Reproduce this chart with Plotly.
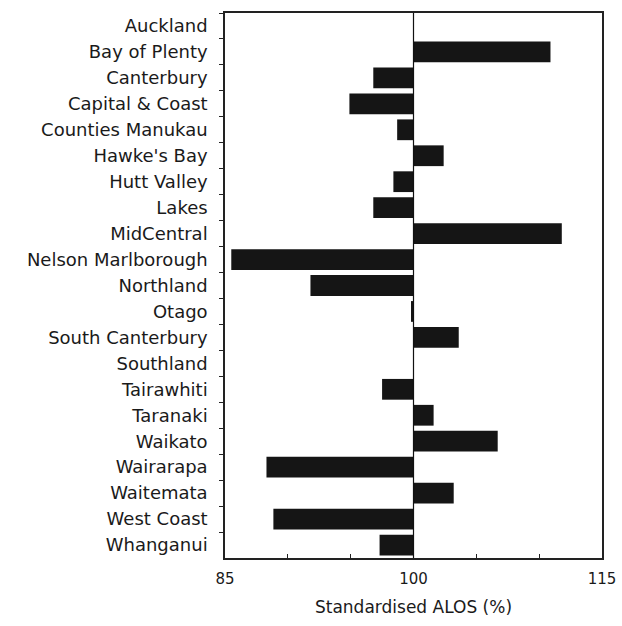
import plotly.graph_objects as go

regions = ["Auckland", "Bay of Plenty", "Canterbury", "Capital & Coast", "Counties Manukau",
           "Hawke's Bay", "Hutt Valley", "Lakes", "MidCentral", "Nelson Marlborough",
           "Northland", "Otago", "South Canterbury", "Southland", "Tairawhiti",
           "Taranaki", "Waikato", "Wairarapa", "Waitemata", "West Coast", "Whanganui"]
alos = [100.0, 110.9, 96.8, 94.9, 98.7, 102.4, 98.4, 96.8, 111.8, 85.5,
        91.8, 99.8, 103.6, 100.0, 97.5, 101.6, 106.7, 88.3, 103.2, 88.85, 97.3]
baseline = 100
x_ticks = [85, 100, 115]

fig = go.Figure()
fig.add_trace(go.Bar(
    y=regions,
    x=[v - baseline for v in alos],
    base=baseline,
    orientation="h",
    marker=dict(color="#151515", line=dict(width=0)),
    width=0.8,
))
fig.add_vline(x=baseline, line=dict(color="#111", width=1.2))

fig.update_layout(
    width=622, height=626,
    margin=dict(l=225, r=20, t=13, b=68),
    paper_bgcolor="white", plot_bgcolor="white",
    showlegend=False,
    font=dict(family="DejaVu Sans, Arial, sans-serif", size=17, color="#1a1a1a"),
)
fig.update_xaxes(
    range=[85, 115],
    tickvals=x_ticks,
    ticktext=[str(t) for t in x_ticks],
    ticks="inside", ticklen=5, tickcolor="#222",
    minor=dict(dtick=5, tick0=85, ticks="inside", ticklen=4, tickcolor="#222"),
    showgrid=False, zeroline=False,
    showline=True, linecolor="#222", linewidth=1.5, mirror=True,
    tickfont=dict(size=15),
    ticklabelstandoff=6,
    automargin=False,
    title=dict(text="Standardised ALOS (%)", font=dict(size=17), standoff=14),
)
fig.update_yaxes(
    categoryorder="array", categoryarray=regions,
    autorange="reversed",
    tickson="boundaries",
    ticks="outside", ticklen=4, tickcolor="#222",
    showgrid=False, zeroline=False,
    showline=True, linecolor="#222", linewidth=1.5, mirror=True,
    tickfont=dict(size=18),
    ticklabelstandoff=12,
    automargin=False,
)

fig.write_html("out.html",
               config={"displayModeBar": False},
               post_script="document.body.style.margin='0';document.body.style.overflow='hidden';")
